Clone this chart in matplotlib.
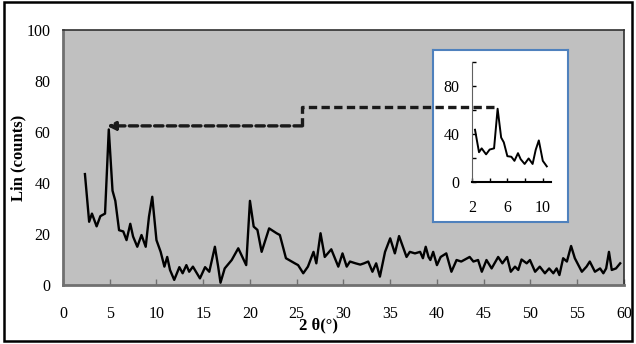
import matplotlib
matplotlib.use("Agg")
import matplotlib.pyplot as plt
from matplotlib.patches import Rectangle

two_theta = [2.35, 2.8, 3.1, 3.6, 4.0, 4.5, 4.9, 5.3, 5.6, 6.0, 6.45, 6.8, 7.2, 7.5, 7.95,
             8.4, 8.85, 9.2, 9.55, 10.0, 10.45, 10.85, 11.15, 11.45, 11.9, 12.45, 12.8,
             13.2, 13.5, 13.9, 14.65, 15.2, 15.65, 16.25, 16.6, 16.85, 17.3, 18.05, 18.75,
             19.6, 20.0, 20.4, 20.8, 21.25, 22.05, 22.85, 23.2, 23.85, 24.8, 25.15, 25.7,
             26.2, 26.8, 27.1, 27.55, 28.0, 28.7, 29.45, 29.9, 30.35, 30.7, 31.3, 31.8,
             32.2, 32.65, 33.1, 33.5, 33.9, 34.45, 35.0, 35.5, 35.95, 36.75, 37.1, 37.65,
             38.2, 38.5, 38.8, 39.1, 39.3, 39.6, 40.0, 40.4, 41.0, 41.55, 42.1, 42.6, 43.5,
             43.9, 44.4, 44.8, 45.3, 45.85, 46.55, 47.0, 47.5, 47.9, 48.35, 48.7, 49.05,
             49.6, 49.95, 50.5, 51.0, 51.55, 52.0, 52.45, 52.8, 53.1, 53.5, 53.9, 54.35,
             54.75, 55.5, 56.0, 56.35, 56.9, 57.45, 57.8, 58.1, 58.4, 58.7, 59.15, 59.6]
counts = [43.5, 24.8, 28, 23, 27, 28, 61, 37, 33, 21.5, 21, 17.6, 24, 19, 15,
          19.6, 15, 26.8, 34.6, 17.6, 13, 7.2, 11, 5.9, 2, 7, 4.6,
          7.8, 5.2, 7.2, 2.6, 7, 5.2, 15, 7.2, 0.9, 6.5, 9.8, 14.4,
          7.8, 33, 22.9, 21.6, 13, 22.2, 20.3, 19.6, 10.5, 8.5, 7.8, 4.6,
          7.2, 13, 8.5, 20.3, 11, 14, 7.2, 12.4, 7.2, 9.2, 8.5, 8.0,
          8.5, 9.2, 5.2, 8.5, 3.3, 13, 18.3, 12.4, 19.2, 11, 13, 12.4,
          13, 10.5, 15, 11, 9.8, 13, 7.8, 11, 12.4, 5.2, 9.8, 9.2, 11,
          9.2, 9.8, 5.2, 9.8, 6.5, 11, 8.5, 11, 5.2, 7.2, 5.9, 10,
          8.5, 9.8, 5.2, 7.2, 4.6, 6.5, 4.6, 6.5, 3.9, 10.5, 9.2, 15.3,
          10.5, 5.2, 7.2, 9.2, 5.2, 6.5, 4.6, 6.5, 13, 5.9, 6.5, 8.5]

main_xticks = list(range(0, 61, 5))
main_yticks = list(range(0, 101, 20))
inset_xticks = [2, 4, 6, 8, 10]
inset_xticklabels = ["2", "", "6", "", "10"]
inset_yticks = [0, 20, 40, 60, 80, 100]
inset_yticklabels = ["0", "", "40", "", "80", ""]
inset_xmax = 10.5

# dashed pointer path (main-axes data coordinates)
arrow_x = [46.1, 25.6, 25.6]
arrow_y = [69.8, 69.8, 62.4]
arrow_tip = (4.7, 62.4)

serif = ["Liberation Serif", "DejaVu Serif"]
plt.rcParams["font.family"] = serif

fig = plt.figure(figsize=(6.36, 3.44), dpi=100)
fig.patches.append(Rectangle((0.006, 0.008), 0.988, 0.985, transform=fig.transFigure,
                             fill=False, edgecolor="black", linewidth=1.8))

ax = fig.add_axes([0.099, 0.1715, 0.882, 0.7413])
ax.set_facecolor("#c0c0c0")
ax.plot(two_theta, counts, color="black", linewidth=1.7)
ax.set_xlim(0, 60)
ax.set_ylim(0, 100)
ax.set_xticks(main_xticks)
ax.set_yticks(main_yticks)
ax.tick_params(axis="x", direction="in", length=4, width=1, color="#707070",
               labelsize=11.5, pad=15)
ax.tick_params(axis="y", length=0, labelsize=11.5, pad=9)
for s in ["top", "right"]:
    ax.spines[s].set_color("#303030")
    ax.spines[s].set_linewidth(1.2)
for s in ["left", "bottom"]:
    ax.spines[s].set_color("#707070")
    ax.spines[s].set_linewidth(2)
ax.set_ylabel("Lin (counts)", fontsize=12, fontweight="bold")
ax.yaxis.set_label_coords(-0.066, 0.5)
ax.set_xlabel("2 θ(°)", fontsize=12, fontweight="bold")
ax.xaxis.set_label_coords(0.455, -0.128)

# inset frame
frame = fig.add_axes([0.681, 0.3547, 0.212, 0.5])
frame.set_facecolor("white")
frame.set_xticks([])
frame.set_yticks([])
for s in frame.spines.values():
    s.set_color("#4f81bd")
    s.set_linewidth(1.5)

ins = fig.add_axes([0.742, 0.471, 0.124, 0.349])
ins.patch.set_alpha(0)
mask = [x <= inset_xmax for x in two_theta]
ins.plot([x for x, m in zip(two_theta, mask) if m],
         [y for y, m in zip(counts, mask) if m], color="black", linewidth=1.4)
ins.set_xlim(2, 10.9)
ins.set_ylim(0, 100)
ins.set_xticks(inset_xticks)
ins.set_xticklabels(inset_xticklabels)
ins.set_yticks(inset_yticks)
ins.set_yticklabels(inset_yticklabels)
ins.tick_params(direction="in", length=3, width=1, labelsize=11.5)
ins.tick_params(axis="x", pad=13)
ins.tick_params(axis="y", pad=9)
for s in ["top", "right"]:
    ins.spines[s].set_visible(False)
ins.spines["left"].set_color("#606060")
ins.spines["bottom"].set_color("black")
ins.spines["bottom"].set_linewidth(1.5)

# overlay for the dashed pointer, drawn above the inset
ov = fig.add_axes(ax.get_position())
ov.set_xlim(0, 60)
ov.set_ylim(0, 100)
ov.axis("off")
ov.patch.set_alpha(0)
ov.plot(arrow_x, arrow_y, color="#1a1a1a", linewidth=2.4, linestyle=(0, (2.5, 1.3)))
ov.annotate("", xy=arrow_tip, xytext=(arrow_x[-1], arrow_y[-1]),
            arrowprops=dict(arrowstyle="-|>", color="#1a1a1a", linewidth=2.4,
                            linestyle=(0, (2.5, 1.3)), mutation_scale=12,
                            shrinkA=0, shrinkB=0))

fig.savefig("out.png", dpi=100)
